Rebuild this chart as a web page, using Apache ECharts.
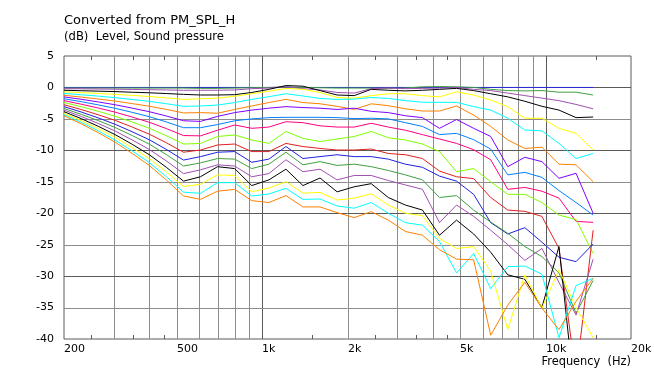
<!DOCTYPE html>
<html><head><meta charset="utf-8">
<script src="https://cdn.jsdelivr.net/npm/echarts@6/dist/echarts.min.js"></script>
<style>html,body{margin:0;padding:0;background:#fff}#c{width:654px;height:374px}</style>
</head><body><div id="c"></div>
<script>
const freqs = [200, 230, 264, 303, 348, 400, 459, 528, 606, 696, 800, 919, 1056, 1213, 1393, 1600, 1838, 2111, 2425, 2786, 3200, 3676, 4222, 4850, 5572, 6400, 7352, 8445, 9701, 11143, 12800, 14703];

const s0 = [0,0,0,0,0,0,0,0,0,0,0,0,0,0,0,0,0,0,0,0,0,0,0,0,0,0,0,0,0,0,0,0];
const s1 = [-0.1,-0.1,-0.1,-0.1,-0.1,-0.1,-0.1,-0.1,-0.15,-0.15,-0.1,-0.05,0,0.1,0,-0.05,-0.1,-0.1,-0.1,-0.15,-0.1,0.1,0.15,0.1,0,-0.3,-0.5,-0.55,-0.5,-0.75,-0.75,-1.2];
const s2 = [-0.2,-0.22,-0.25,-0.28,-0.32,-0.36,-0.4,-0.45,-0.45,-0.45,-0.4,-0.2,-0.1,0.1,-0.2,-0.4,-0.8,-0.9,-0.2,-0.1,-0.2,-0.15,-0.1,0,-0.3,-0.5,-0.9,-1.3,-1.7,-2.1,-2.7,-3.4];
const s3 = [-0.45,-0.52,-0.59,-0.66,-0.76,-0.85,-0.97,-1.1,-1.2,-1.2,-1.15,-0.8,-0.3,0.3,0.2,-0.5,-1.2,-1.3,-0.3,-0.45,-0.55,-0.45,-0.3,-0.15,-0.5,-1.0,-1.5,-2.2,-3.0,-3.6,-4.8,-4.7];
const s4 = [-0.7,-0.82,-0.95,-1.1,-1.26,-1.44,-1.66,-1.9,-1.8,-1.7,-1.4,-1.0,-0.6,-0.15,-0.3,-0.8,-1.6,-1.7,-1.3,-1.0,-1.0,-1.3,-1.5,-0.7,-1.2,-2.0,-3.05,-4.9,-4.9,-6.5,-7.3,-9.95];
const s5 = [-0.95,-1.16,-1.38,-1.63,-1.91,-2.22,-2.59,-3.0,-2.95,-2.8,-2.4,-1.9,-1.47,-1.0,-1.36,-1.75,-1.9,-1.85,-1.6,-1.75,-2.1,-2.35,-2.37,-2.37,-3.05,-3.6,-4.9,-6.77,-6.9,-8.9,-11.3,-10.5];
const s6 = [-1.25,-1.53,-1.84,-2.17,-2.57,-2.99,-3.49,-4.05,-4.0,-4.1,-3.5,-2.95,-2.4,-1.9,-2.4,-2.6,-3.0,-3.5,-2.6,-2.9,-3.4,-3.75,-3.75,-2.95,-4.4,-6.2,-8.35,-9.7,-9.5,-12.2,-12.3,-15.0];
const s7 = [-1.5,-1.88,-2.3,-2.75,-3.29,-3.86,-4.54,-5.3,-5.4,-4.6,-4.0,-3.6,-3.3,-3.05,-3.2,-3.3,-3.5,-3.3,-3.8,-4.0,-4.5,-4.8,-6.5,-5.1,-6.5,-7.8,-12.6,-11.1,-11.8,-14.45,-13.65,-20.0];
const s8 = [-1.8,-2.26,-2.77,-3.32,-3.96,-4.65,-5.48,-6.4,-6.4,-5.9,-5.3,-5.0,-4.8,-4.75,-4.75,-4.75,-4.8,-4.95,-4.9,-5.0,-5.6,-6.2,-7.5,-7.3,-8.3,-9.8,-13.9,-13.5,-14.3,-16.4,-18.3,-20.3];
const s9 = [-2.1,-2.66,-3.27,-3.93,-4.71,-5.54,-6.54,-7.65,-7.7,-6.8,-5.97,-6.5,-6.3,-5.45,-5.6,-6.1,-6.3,-6.3,-5.7,-6.3,-6.8,-7.5,-8.2,-8.9,-9.9,-11.5,-16.2,-15.9,-16.5,-17.6,-21.3,-21.45];
const s10 = [-2.4,-3.06,-3.79,-4.58,-5.5,-6.49,-7.68,-9.0,-8.9,-7.8,-7.56,-8.35,-8.9,-7.0,-8.1,-8.6,-8.2,-7.8,-7.0,-8.0,-8.35,-9.0,-10.2,-13.4,-12.9,-15.0,-17.0,-17.0,-18.3,-20.3,-21.0,-26.4];
const s11 = [-2.75,-3.51,-4.34,-5.24,-6.3,-7.43,-8.79,-10.3,-9.95,-9.15,-9.0,-10.2,-10.2,-8.9,-9.4,-9.7,-9.95,-9.95,-9.8,-10.5,-10.7,-11.3,-13.3,-14.2,-14.5,-17.5,-19.5,-19.7,-20.5,-25.6,-46,-22.7];
const s12 = [-3.05,-3.9,-4.84,-5.86,-7.05,-8.32,-9.85,-11.55,-11.0,-10.3,-10.2,-11.9,-11.4,-9.4,-11.3,-11.0,-10.7,-11.0,-11.0,-11.4,-12.2,-12.7,-14.1,-14.9,-17.0,-21.5,-23.3,-22.3,-24.6,-27.0,-27.7,-24.9];
const s13 = [-3.35,-4.27,-5.27,-6.37,-7.65,-9.02,-10.67,-12.5,-12.0,-11.3,-11.4,-12.9,-12.2,-10.3,-12.3,-11.8,-12.4,-12.2,-12.6,-13.2,-13.9,-14.7,-17.5,-17.2,-19.5,-21.4,-23.2,-25.3,-26.9,-29.5,-35.9,-30.7];
const s14 = [-3.6,-4.61,-5.72,-6.93,-8.35,-9.86,-11.68,-13.7,-13.1,-12.3,-12.5,-14.2,-13.7,-11.5,-13.4,-13.0,-14.7,-14.0,-14.0,-14.8,-15.5,-16.2,-21.5,-18.7,-20.5,-22.7,-25.0,-27.5,-25.6,-31.0,-36.2,-27.3];
const s15 = [-3.85,-4.96,-6.17,-7.5,-9.04,-10.7,-12.69,-14.9,-14.2,-12.6,-12.9,-15.6,-14.7,-13.0,-15.6,-14.4,-16.6,-15.8,-15.3,-17.5,-18.7,-19.5,-23.5,-21.1,-23.3,-26.2,-29.8,-30.5,-35.0,-25.3,-51,-55];
const s16 = [-4.1,-5.27,-6.55,-7.94,-9.58,-11.32,-13.42,-15.75,-15.4,-13.9,-14.0,-16.6,-16.0,-15.0,-16.8,-16.7,-17.9,-17.6,-16.9,-18.7,-20.0,-20.4,-24.0,-25.6,-25.3,-29.2,-38.5,-29.8,-35.1,-29.0,-35.0,-39.8];
const s17 = [-4.3,-5.54,-6.89,-8.38,-10.1,-11.96,-14.18,-16.65,-16.84,-15.14,-15.14,-17.26,-16.94,-16.04,-17.8,-17.74,-18.85,-19.2,-18.3,-20.0,-21.5,-21.9,-24.5,-29.5,-26.4,-32.0,-28.5,-28.4,-29.7,-39.8,-31.5,-30.35];
const s18 = [-4.5,-5.78,-7.18,-8.71,-10.49,-12.41,-14.7,-17.25,-17.8,-16.5,-16.2,-18.0,-18.3,-17.2,-19.0,-19.0,-19.9,-20.7,-19.75,-21.1,-22.9,-23.5,-25.8,-27.3,-27.4,-39.4,-34.6,-31.0,-35.1,-38.5,-34.0,-30.35];

const allSeries = [s0,s1,s2,s3,s4,s5,s6,s7,s8,s9,s10,s11,s12,s13,s14,s15,s16,s17,s18];
const seriesColors = ['#2a2ad8','#40a040','#a050b0','#000000','#ffff00','#00ffff','#ff8000','#8000ff','#0080ff','#ff0080','#80ff00','#e02020','#2020e0','#40a040','#a050b0','#000000','#ffff00','#00ffff','#ff8000'];

const gridFreqs = [300,400,500,600,700,800,900,1000,2000,3000,4000,5000,6000,7000,8000,9000,10000];
const majorGridFreqs = [1000,10000];
const gridLevels = [-35,-30,-25,-20,-15,-10,-5,0];
const majorGridLevels = [-30,-20,-10,0];
const minorTickFreqs = [250,350,450,1500,2500,3500,4500,15000];
const xTickValues = [200,500,1000,2000,5000,10000,20000];
const xTickLabels = ['200','500','1k','2k','5k','10k','20k'];

const X_MIN = 200, X_MAX = 20000, Y_MIN = -40, Y_MAX = 5;
const FONT = 'DejaVu Sans';
const MAJOR = '#5a5a5a', MINOR = '#8c8c8c';

const chart = echarts.init(document.getElementById('c'), null, {renderer:'canvas'});

const px = v => Math.round(v) + 0.5;

const series = [];
series.push({
  type:'custom', silent:true, z:1, animation:false,
  data: gridFreqs.map(f => [f, Y_MIN]),
  encode:{x:0, y:1},
  renderItem:(params, api) => {
    const f = api.value(0);
    const a = api.coord([f, Y_MAX]), b = api.coord([f, Y_MIN]);
    const x = px(a[0]);
    return {type:'line', shape:{x1:x, y1:a[1], x2:x, y2:b[1]},
      style:{stroke: majorGridFreqs.includes(f) ? MAJOR : MINOR, lineWidth:1}};
  }
});
series.push({
  type:'custom', silent:true, z:1, animation:false,
  data: gridLevels.map(v => [X_MIN, v]),
  encode:{x:0, y:1},
  renderItem:(params, api) => {
    const v = api.value(1);
    const a = api.coord([X_MIN, v]), b = api.coord([X_MAX, v]);
    const y = px(a[1]);
    return {type:'line', shape:{x1:a[0], y1:y, x2:b[0], y2:y},
      style:{stroke: majorGridLevels.includes(v) ? MAJOR : MINOR, lineWidth:1}};
  }
});
series.push({
  type:'custom', silent:true, z:1, animation:false,
  data: minorTickFreqs.map(f => [f, Y_MIN]),
  encode:{x:0, y:1},
  renderItem:(params, api) => {
    const f = api.value(0);
    const a = api.coord([f, Y_MAX]), b = api.coord([f, Y_MIN]);
    const x = px(a[0]);
    return {type:'group', children:[
      {type:'line', shape:{x1:x, y1:a[1], x2:x, y2:a[1]+4}, style:{stroke:MAJOR, lineWidth:1}},
      {type:'line', shape:{x1:x, y1:b[1], x2:x, y2:b[1]-4}, style:{stroke:MAJOR, lineWidth:1}}
    ]};
  }
});
series.push({
  type:'custom', silent:true, z:3, animation:false, clip:false,
  data: xTickValues.map((f, i) => [f, Y_MIN, i]),
  encode:{x:0, y:1},
  renderItem:(params, api) => {
    const f = api.value(0), i = api.value(2);
    const p = api.coord([f, Y_MIN]);
    return {type:'text', x: Math.round(p[0]), y: p[1] + 5,
      style:{text: xTickLabels[i], fill:'#000', font:'11px "' + FONT + '"', textAlign:'left', textVerticalAlign:'top'}};
  }
});

allSeries.forEach((vals, i) => {
  series.push({
    type:'line', name:'s' + i, data: freqs.map((f, k) => [f, vals[k]]),
    showSymbol:false, symbol:'none', smooth:false, clip:true, animation:false, z:2,
    lineStyle:{color:seriesColors[i], width:1}, itemStyle:{color:seriesColors[i]}
  });
});

chart.setOption({
  backgroundColor:'#ffffff',
  animation:false,
  title:[
    {text:'Converted from PM_SPL_H', left:64, top:14, padding:0,
     textStyle:{fontFamily:FONT, fontSize:13, fontWeight:'normal', color:'#000'}},
    {text:'(dB)  Level, Sound pressure', left:64, top:31, padding:0,
     textStyle:{fontFamily:FONT, fontSize:11.6, fontWeight:'normal', color:'#000'}},
    {text:'Frequency  (Hz)', right:23, top:357, padding:0,
     textStyle:{fontFamily:FONT, fontSize:11.4, fontWeight:'normal', color:'#000'}}
  ],
  grid:{left:64, top:56, width:567, height:283, show:true, borderColor:MAJOR, borderWidth:1, backgroundColor:'transparent'},
  xAxis:{type:'log', logBase:10, min:X_MIN, max:X_MAX,
    axisLine:{show:false}, axisTick:{show:false}, axisLabel:{show:false}, splitLine:{show:false}},
  yAxis:{type:'value', min:Y_MIN, max:Y_MAX, interval:5,
    axisLine:{show:false}, axisTick:{show:false}, splitLine:{show:false},
    axisLabel:{fontFamily:FONT, fontSize:11, color:'#000', margin:10}},
  series: series
});
</script></body></html>
